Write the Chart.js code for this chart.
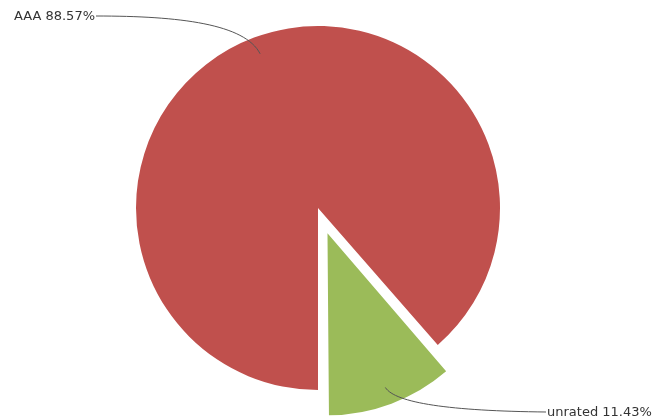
<!DOCTYPE html>
<html>
<head>
<meta charset="utf-8">
<script src="https://cdn.jsdelivr.net/npm/chart.js@4"></script>
<style>
  html, body { margin: 0; padding: 0; background: #fff; }
  #wrap { width: 661px; height: 419px; }
</style>
</head>
<body>
<div id="wrap"><canvas id="pie" width="661" height="419"></canvas></div>
<script>
// ratings and shares (percent)
const ratings = ['AAA', 'unrated'];
const shares = [88.57, 11.43];
const sliceColors = ['#C0504D', '#9BBB59'];
// how far each slice is pulled out, in pixels
const sliceOffsets = [0, 27];

// where the label text sits, and how the leader line bends to it
const labelSpots = [
    { x: 95, y: 17, align: 'right', cp1: [180, 16], cp2: [245, 24] },
    { x: 547, y: 413, align: 'left', cp1: [395, 403], cp2: [450, 411] }
];

// Chart.js grows a pulled-out arc's radius by offset * (1 - sin(angle));
// undo that so the exploded slice keeps the same radius as the rest
const keepRadius = {
    id: 'keepRadius',
    beforeDatasetsDraw(chart) {
        const meta = chart.getDatasetMeta(0);
        const r = meta.controller.outerRadius;
        meta.data.forEach((arc, i) => {
            const fix = 1 - Math.sin(Math.min(Math.PI, arc.circumference || 0));
            arc.outerRadius = r - sliceOffsets[i] * fix;
        });
    }
};

const leaderLabels = {
    id: 'leaderLabels',
    afterDatasetsDraw(chart) {
        const ctx = chart.ctx;
        const meta = chart.getDatasetMeta(0);
        const r = meta.controller.outerRadius;
        ctx.save();
        ctx.font = '13px "DejaVu Sans", Verdana, sans-serif';
        ctx.textBaseline = 'middle';
        meta.data.forEach((arc, i) => {
            const mid = (arc.startAngle + arc.endAngle) / 2;
            const dist = sliceOffsets[i] + r * 0.905;
            const ax = arc.x + Math.cos(mid) * dist;
            const ay = arc.y + Math.sin(mid) * dist;
            const spot = labelSpots[i];

            ctx.strokeStyle = '#555';
            ctx.lineWidth = 1;
            ctx.beginPath();
            ctx.moveTo(ax, ay);
            if (i === 0) {
                ctx.bezierCurveTo(spot.cp2[0], spot.cp2[1], spot.cp1[0], spot.cp1[1], spot.x + 1, spot.y - 1);
            } else {
                ctx.bezierCurveTo(spot.cp1[0], spot.cp1[1], spot.cp2[0], spot.cp2[1], spot.x - 1, spot.y - 1);
            }
            ctx.stroke();

            ctx.fillStyle = '#333';
            ctx.textAlign = spot.align;
            ctx.fillText(ratings[i] + ' ' + shares[i].toFixed(2) + '%', spot.x, spot.y);
        });
        ctx.restore();
    }
};

new Chart(document.getElementById('pie'), {
    type: 'pie',
    data: {
        labels: ratings,
        datasets: [{
            data: shares,
            backgroundColor: sliceColors,
            borderWidth: 0,
            // Chart.js v4 arcs move by offset / 4
            offset: sliceOffsets.map(o => o * 4),
            hoverOffset: 0
        }]
    },
    options: {
        responsive: false,
        animation: false,
        events: [],
        rotation: 180,
        radius: 182,
        layout: { padding: { left: 0, right: 25, top: 0, bottom: 3 } },
        plugins: {
            legend: { display: false },
            tooltip: { enabled: false }
        }
    },
    plugins: [keepRadius, leaderLabels]
});
</script>
</body>
</html>
